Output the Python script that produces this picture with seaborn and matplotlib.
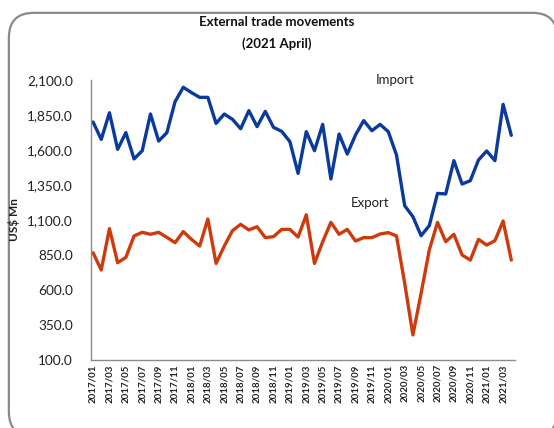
import matplotlib
matplotlib.use("Agg")
import matplotlib.pyplot as plt
from matplotlib.patches import FancyBboxPatch
import seaborn as sns
import pandas as pd

months = [f"{y}/{m:02d}" for y in range(2017, 2022) for m in range(1, 13)][:52]

imports = [1800, 1676, 1866, 1605, 1724, 1536, 1595, 1857, 1664, 1724,
           1945, 2048, 2010, 1976, 1976, 1790, 1857, 1819, 1752, 1881,
           1767, 1876, 1762, 1733, 1660, 1433, 1731, 1595, 1783, 1393,
           1714, 1571, 1707, 1810, 1738, 1783, 1731, 1564, 1202, 1124,
           988, 1060, 1290, 1286, 1524, 1357, 1381, 1529, 1593, 1524,
           1926, 1705]

exports = [866, 743, 1038, 795, 833, 986, 1012, 998, 1012, 976,
           938, 1017, 962, 914, 1107, 790, 914, 1024, 1069, 1029,
           1052, 974, 981, 1033, 1033, 978, 1137, 790, 945, 1083,
           998, 1033, 950, 974, 974, 1000, 1010, 986, 648, 279,
           576, 886, 1083, 945, 998, 850, 814, 962, 921, 952,
           1093, 814]

y_ticks = [100, 350, 600, 850, 1100, 1350, 1600, 1850, 2100]

sns.set_theme(style="white")
plt.rcParams['font.family'] = ['Lato', 'DejaVu Sans']

df = pd.DataFrame({"idx": range(len(months)), "Import": imports, "Export": exports})

fig = plt.figure(figsize=(5.54, 4.28), dpi=100)
fig.patch.set_facecolor("white")

# rounded frame
frame = FancyBboxPatch((0.016, -0.02), 0.99, 0.99, transform=fig.transFigure,
                       boxstyle="round,pad=0,rounding_size=0.045",
                       fc="white", ec="#8a8a8a", lw=1.6, zorder=-1,
                       mutation_aspect=554/428)
fig.patches.append(frame)

ax = fig.add_axes([91/554, 1 - 360/428, (515 - 91)/554, (360 - 80)/428])
ax.set_facecolor("none")

sns.lineplot(data=df, x="idx", y="Import", ax=ax, color="#0a3a9c", lw=2.4)
sns.lineplot(data=df, x="idx", y="Export", ax=ax, color="#cf3a0c", lw=2.4)

ax.set_xlim(-0.25, 51.45)
ax.set_ylim(100, 2100)
ax.set_yticks(y_ticks)
ax.set_yticklabels([f"{v:,.1f}" for v in y_ticks], fontsize=9.8, color="#222222")
ax.set_xticks(range(0, len(months), 2))
ax.set_xticklabels(months[::2], rotation=90, fontsize=7, fontweight="bold", color="#222222")
ax.tick_params(axis="both", length=0, pad=3)
ax.tick_params(axis="y", pad=13)
ax.set_xlabel("")
ax.set_ylabel("US$ Mn", fontsize=8.5, fontweight="bold", color="#222222")
ax.yaxis.set_label_coords((20 - 91) / 424, 0.5)

for s in ["top", "right"]:
    ax.spines[s].set_visible(False)
for s in ["left", "bottom"]:
    ax.spines[s].set_color("#8c8c8c")
    ax.spines[s].set_linewidth(1.0)

ax.text(36.8, 2100, "Import", fontsize=9.5, color="#222222", ha="center", va="center")
ax.text(33.8, 1221, "Export", fontsize=9.5, color="#222222", ha="center", va="center")

fig.text(0.5, 1 - 22/428, "External trade movements", ha="center", va="center",
         fontsize=9.5, fontweight="bold", color="#111111")
fig.text(0.5, 1 - 44/428, "(2021 April)", ha="center", va="center",
         fontsize=9.5, fontweight="bold", color="#111111")

fig.savefig("out.png", dpi=100)
